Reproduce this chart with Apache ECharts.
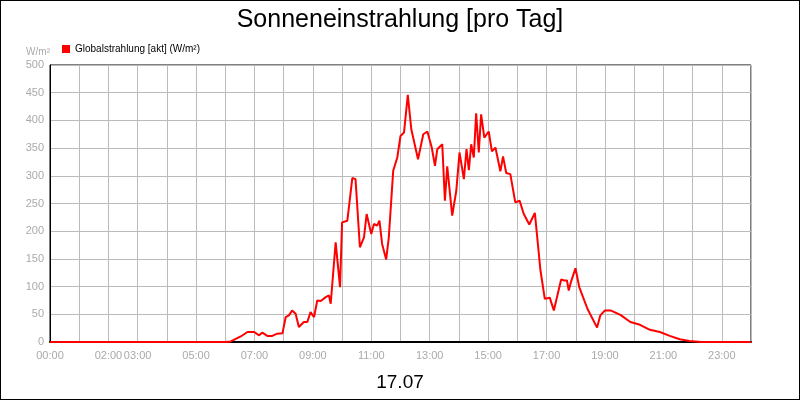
<!DOCTYPE html>
<html><head><meta charset="utf-8">
<script src="https://cdn.jsdelivr.net/npm/echarts@6/dist/echarts.min.js"></script>
<style>html,body{margin:0;padding:0;background:#fff}#c{width:800px;height:400px;box-sizing:border-box;border:1px solid #000}</style>
</head><body><div id="c"></div>
<script>
const hours = [0,6.0,6.19,6.53,6.76,6.99,7.16,7.27,7.44,7.61,7.78,7.96,8.07,8.18,8.29,8.41,8.52,8.69,8.81,8.92,9.04,9.15,9.27,9.44,9.55,9.61,9.78,9.93,10.0,10.18,10.35,10.46,10.61,10.75,10.84,11.0,11.09,11.2,11.28,11.37,11.51,11.6,11.75,11.89,12.0,12.12,12.25,12.37,12.6,12.78,12.92,13.07,13.18,13.26,13.43,13.52,13.6,13.77,13.91,14.02,14.17,14.26,14.34,14.42,14.51,14.59,14.68,14.76,14.87,15.02,15.13,15.25,15.42,15.51,15.62,15.76,15.93,16.08,16.22,16.41,16.6,16.79,16.94,17.11,17.25,17.5,17.61,17.7,17.76,17.84,17.99,18.12,18.4,18.73,18.84,19.0,19.19,19.53,19.87,20.2,20.54,20.88,21.22,21.56,21.9,22.3,24];
const values = [0,0,1,10,18,18,12,17,11,11,15,16,45,48,57,51,27,36,36,54,45,75,74,81,84,69,180,99,216,219,296,294,171,189,231,195,213,210,219,177,149,189,309,333,372,378,446,384,330,375,380,351,318,348,357,255,317,228,273,342,294,348,310,357,333,413,342,411,369,380,344,351,308,335,305,303,252,255,231,212,233,130,78,80,57,113,111,111,93,109,133,99,60,26,48,57,57,49,36,31,22,18,11,5,2,0,0];
const shownLabels = [0,2,3,5,7,9,11,13,15,17,19,21,23];
const pad = n => (n<10?'0':'')+n+':00';
const chart = echarts.init(document.getElementById('c'));
chart.setOption({
  animation:false,
  title:[{text:'Sonneneinstrahlung [pro Tag]',left:'center',top:2,textStyle:{fontSize:25,fontWeight:'normal',color:'#000',fontFamily:'Liberation Sans'}},
         {text:'17.07',left:'center',top:367,textStyle:{fontSize:19,fontWeight:'normal',color:'#000',fontFamily:'Liberation Sans'}}],
  legend:{left:56,top:38,itemWidth:8,itemHeight:8,icon:'rect',textStyle:{fontSize:10,color:'#000',fontFamily:'Liberation Sans'},data:['Globalstrahlung [akt] (W/m²)']},
  grid:{left:49,right:48,top:64,bottom:57,show:true,borderColor:'#000',borderWidth:1},
  xAxis:{type:'value',min:0,max:24,interval:1,
    axisLine:{lineStyle:{color:'#000',width:2}},axisTick:{show:false},
    axisLabel:{color:'#aaa',fontSize:11,fontFamily:'Liberation Sans',showMaxLabel:false,
      formatter:v=>shownLabels.includes(v)?pad(v):''},
    splitLine:{lineStyle:{color:'#bbb'}}},
  yAxis:{type:'value',min:0,max:500,interval:50,name:'W/m²',nameGap:8,
    nameTextStyle:{color:'#aaa',fontSize:10,align:'right'},
    axisLine:{show:true,lineStyle:{color:'#000'}},axisTick:{show:false},
    axisLabel:{color:'#aaa',fontSize:11,fontFamily:'Liberation Sans',margin:6},
    splitLine:{lineStyle:{color:'#bbb'}}},
  series:[{name:'Globalstrahlung [akt] (W/m²)',type:'line',showSymbol:false,
    itemStyle:{color:'#f00'},lineStyle:{color:'#f00',width:2},
    data:hours.map((h,i)=>[h,values[i]])}]
});
</script></body></html>
